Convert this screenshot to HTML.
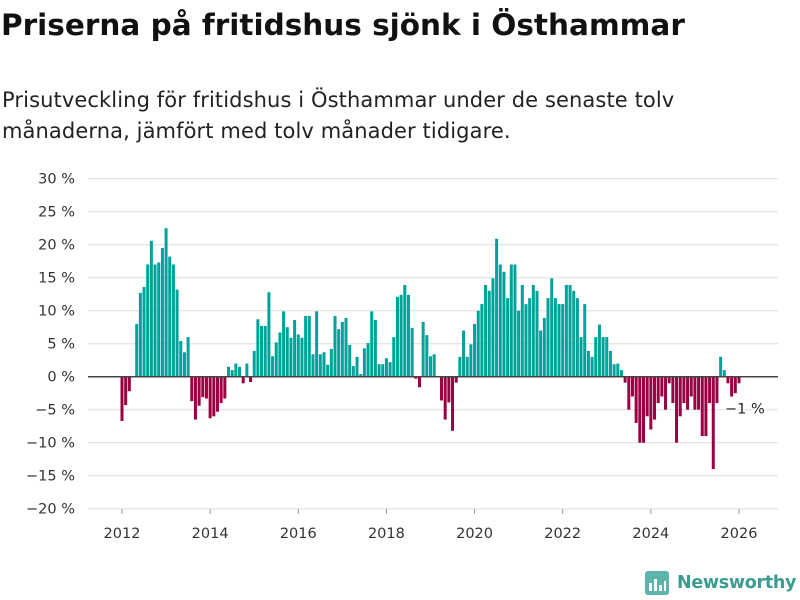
<!DOCTYPE html>
<html><head><meta charset="utf-8"><style>
body{margin:0;width:800px;height:600px;background:#fff;font-family:"DejaVu Sans","Liberation Sans",sans-serif;overflow:hidden;position:relative}
h1{position:absolute;left:1px;top:8px;margin:0;font-size:29.5px;font-weight:bold;color:#111;letter-spacing:0px;white-space:nowrap}
p{position:absolute;left:2px;top:85px;margin:0;font-size:21px;line-height:31px;color:#222;white-space:nowrap;letter-spacing:0.1px}
svg{position:absolute;left:0;top:0}
</style></head><body>
<h1>Priserna på fritidshus sjönk i Östhammar</h1>
<p>Prisutveckling för fritidshus i Östhammar under de senaste tolv<br>månaderna, jämfört med tolv månader tidigare.</p>
<svg id="chart" width="800" height="600"></svg>
<script>
const yTicks=[30,25,20,15,10,5,0,-5,-10,-15,-20];
const yTickLabels=["30 %","25 %","20 %","15 %","10 %","5 %","0 %","−5 %","−10 %","−15 %","−20 %"];
const xTicks=[2012,2014,2016,2018,2020,2022,2024,2026];
const startYear=2012;
const values=[-6.7,-4.3,-2.2,0,8,12.7,13.6,17,20.6,17,17.3,19.5,
22.5,18.2,17,13.2,5.4,3.7,6,-3.7,-6.5,-4.4,-3.1,-3.3,
-6.3,-6,-5.3,-4,-3.3,1.5,1,2,1.5,-1,2,-0.8,
3.9,8.7,7.7,7.7,12.8,3.1,5.2,6.7,9.9,7.5,5.9,8.6,6.4,5.9,9.2,9.2,3.4,9.9,3.4,3.7,
1.8,4.2,9.2,7.2,8.3,8.9,4.8,1.6,3.0,0.4,4.3,5.1,9.9,8.6,1.9,1.9,2.8,2.2,6.0,12.1,
12.4,13.9,12.4,7.4,
-0.3,-1.6,8.3,6.3,3.1,3.4,0,-3.6,-6.5,-3.9,-8.2,-0.9,
3.0,7.0,3.0,4.9,8.0,10,11,13.9,13,14.9,20.9,17,15.9,11.9,17,17,10,13.9,11,11.9,13.9,13,7,8.9,
11.9,14.9,11.9,11,11,13.9,13.9,13,11.9,6,11,3.9,3.0,6,7.9,6,6,3.9,1.9,
2,1,
-0.9,-5,-3,-7,-10,-10,-6,-8,-6.5,-4,-3,-5,-1,-4,-10,-6,-4,-5,-3,-5,-5,-9,-9,-4,-14,-4,3,1,-1,-3,-2.5,-1];
const lastLabel="−1 %";
const NS="http://www.w3.org/2000/svg";
const svg=document.getElementById('chart');
const y=v=>376.7-(v)*6.6;
const xYear=t=>122+(t-2012)*44.07;
const xMonth=i=>xYear(startYear+i/12);
function mk(tag,attrs){const e=document.createElementNS(NS,tag);for(const k in attrs)e.setAttribute(k,attrs[k]);svg.appendChild(e);return e;}
yTicks.forEach((t,k)=>{
  const g=mk('line',{x1:88,x2:778,y1:y(t),y2:y(t),stroke:'#dedede','stroke-width':1});
  
  
  const l=mk('text',{x:75,y:y(t)+5,'text-anchor':'end','font-size':14.5,fill:'#333'});
  l.textContent=yTickLabels[k];
  
  
});
xTicks.forEach(t=>{
  const tk=mk('line',{x1:xYear(t),x2:xYear(t),y1:509,y2:514,stroke:'#999'});
  
  
  const l=mk('text',{x:xYear(t),y:538,'text-anchor':'middle','font-size':14.5,fill:'#333'});
  l.textContent=t;
  
  
});
values.forEach((v,i)=>{
  const x=xMonth(i);
  const b=mk('rect',{x:x-1.5,width:3,y:Math.min(y(v),y(0)),height:Math.abs(y(v)-y(0)),fill:v>=0?'#00a39a':'#9a0042'});
  
  
});
const z=mk('line',{x1:88,x2:778,y1:y(0),y2:y(0),stroke:'#444','stroke-width':1.5});


const lx=xMonth(values.length-1);
const ll=mk('text',{x:lx-14,y:y(values[values.length-1])+30,'font-size':14.5,fill:'#222',stroke:'#fff','stroke-width':3,'paint-order':'stroke'});
ll.textContent=lastLabel;


</script>
<div style="position:absolute;left:645px;top:570px;height:26px;display:flex;align-items:center">
<svg width="24" height="24" style="position:static"><rect x="0" y="0" width="24" height="24" rx="3" fill="#5bb5a9"/><rect x="4" y="12" width="3" height="8" fill="#fff"/><rect x="9" y="8" width="3" height="12" fill="#fff"/><rect x="14" y="14" width="3" height="6" fill="#fff"/><rect x="19" y="10" width="2" height="10" fill="#fff"/></svg>
<span style="margin-left:8px;font-size:17.5px;font-weight:bold;color:#3d9c91;letter-spacing:-0.3px">Newsworthy</span></div>
</body></html>
